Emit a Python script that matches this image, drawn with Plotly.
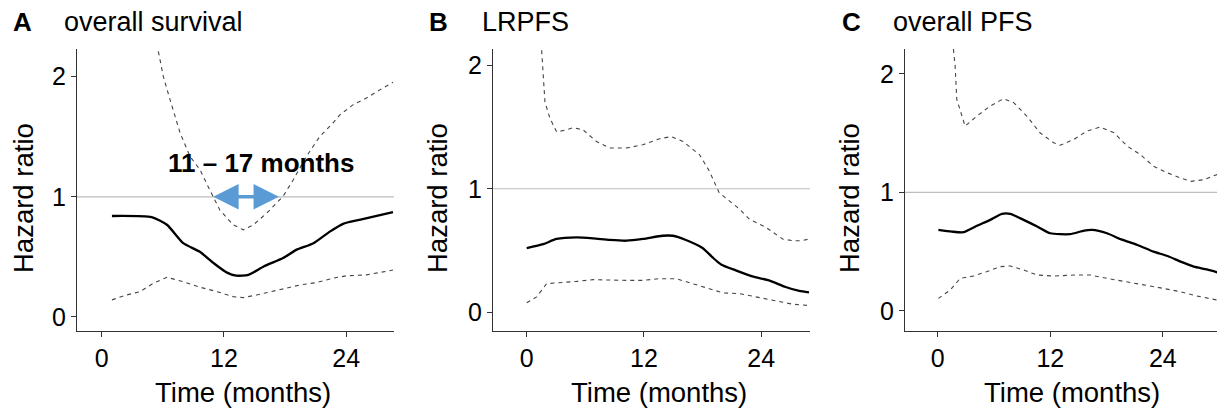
import plotly.graph_objects as go

# ---------- data ----------
os_x = [1.0, 4.9, 6.4, 8.0, 9.6, 11.0, 12.3, 13.2, 14.4, 15.9, 17.8, 19.1, 20.8, 22.4, 23.7, 25.3, 27.0, 28.6]
os_hr = [0.84, 0.83, 0.767, 0.614, 0.544, 0.447, 0.369, 0.344, 0.35, 0.42, 0.49, 0.558, 0.614, 0.71, 0.775, 0.808, 0.842, 0.872]
os_up_x = [5.56, 6.05, 6.7, 7.7, 8.67, 9.65, 10.6, 11.6, 12.9, 13.9, 14.9, 16.2, 17.8, 18.8, 20.1, 21.4, 22.7, 23.4, 24.7, 26.0, 27.3, 28.6]
os_up = [2.21, 2.0, 1.81, 1.53, 1.336, 1.225, 1.058, 0.89, 0.767, 0.725, 0.767, 0.864, 1.003, 1.14, 1.336, 1.50, 1.614, 1.683, 1.767, 1.822, 1.89, 1.953]
os_lo_x = [1.0, 2.45, 3.76, 5.07, 6.4, 8.0, 9.65, 11.3, 12.9, 13.9, 15.2, 16.8, 18.1, 19.5, 21.1, 22.7, 24.0, 26.0, 28.6]
os_lo = [0.142, 0.183, 0.211, 0.28, 0.33, 0.294, 0.247, 0.211, 0.169, 0.161, 0.183, 0.211, 0.239, 0.267, 0.286, 0.322, 0.342, 0.35, 0.39]

lr_x = [0.0, 1.7, 3.06, 5.1, 6.8, 8.5, 10.2, 11.9, 13.9, 14.96, 16.3, 18.0, 19.0, 19.9, 21.4, 23.1, 24.8, 26.5, 27.9, 28.9]
lr_hr = [0.521, 0.553, 0.594, 0.607, 0.599, 0.586, 0.58, 0.594, 0.62, 0.62, 0.586, 0.521, 0.447, 0.388, 0.34, 0.291, 0.259, 0.206, 0.174, 0.163]
lr_up_x = [1.53, 1.7, 1.87, 2.38, 3.06, 4.08, 4.76, 5.78, 7.14, 8.5, 10.2, 11.9, 13.6, 14.8, 16.0, 17.7, 18.7, 19.7, 20.7, 21.8, 22.8, 24.5, 26.2, 27.2, 28.2, 28.9]
lr_up = [2.12, 1.92, 1.70, 1.57, 1.46, 1.476, 1.495, 1.476, 1.382, 1.329, 1.329, 1.356, 1.404, 1.422, 1.382, 1.275, 1.142, 0.968, 0.901, 0.834, 0.754, 0.687, 0.594, 0.58, 0.58, 0.594]
lr_lo_x = [0.0, 1.02, 2.04, 3.06, 5.1, 6.8, 8.5, 10.2, 11.9, 13.6, 15.3, 17.0, 18.7, 20.1, 21.8, 23.8, 25.5, 27.2, 28.9]
lr_lo = [0.078, 0.126, 0.233, 0.238, 0.251, 0.265, 0.259, 0.259, 0.259, 0.273, 0.273, 0.233, 0.193, 0.158, 0.152, 0.118, 0.094, 0.067, 0.056]

pf_x = [0.07, 1.5, 2.74, 4.17, 5.6, 6.84, 7.73, 9.15, 10.6, 12.0, 14.1, 15.6, 16.45, 18.05, 19.5, 21.3, 23.0, 24.5, 25.9, 27.3, 28.7, 30.2]
pf_hr = [0.684, 0.669, 0.664, 0.718, 0.768, 0.819, 0.819, 0.768, 0.712, 0.655, 0.647, 0.678, 0.684, 0.655, 0.605, 0.556, 0.5, 0.463, 0.415, 0.373, 0.35, 0.316]
pf_up_x = [1.67, 1.85, 2.03, 2.56, 2.92, 4.17, 5.6, 7.0, 8.1, 9.5, 10.9, 12.36, 13.07, 14.5, 15.9, 17.3, 18.8, 20.2, 21.6, 23.0, 24.5, 25.9, 27.0, 28.4, 30.2]
pf_up = [2.21, 2.07, 1.785, 1.644, 1.559, 1.644, 1.729, 1.79, 1.757, 1.644, 1.503, 1.418, 1.398, 1.446, 1.517, 1.551, 1.503, 1.39, 1.319, 1.22, 1.164, 1.121, 1.093, 1.107, 1.164]
pf_lo_x = [0.07, 1.32, 2.39, 3.8, 5.2, 6.66, 7.73, 9.15, 10.6, 12.4, 14.5, 16.3, 18.05, 20.2, 22.0, 24.1, 25.9, 27.7, 30.2]
pf_lo = [0.105, 0.175, 0.274, 0.294, 0.33, 0.373, 0.379, 0.345, 0.302, 0.294, 0.302, 0.302, 0.274, 0.246, 0.218, 0.189, 0.161, 0.124, 0.085]

panel_letters = ["A", "B", "C"]
panel_titles = ["overall survival", "LRPFS", "overall PFS"]
x_ticks = [0, 12, 24]
y_ticks = [0, 1, 2]
ref_hr = 1
window = [10.8, 17.4]
window_label = "11 – 17 months"

# ---------- layout geometry (page pixels; page body has an 8px margin) ----------
OFF = 8
W, H = 1217, 402


def fx(px):
    return (px - OFF) / W


def fy(py):
    return 1 - (py - OFF) / H


panels = [
    dict(x=(os_x, os_hr), up=(os_up_x, os_up), lo=(os_lo_x, os_lo), px=(77, 394), xr=(-2.43, 28.7), yr=(-0.117, 2.23)),
    dict(x=(lr_x, lr_hr), up=(lr_up_x, lr_up), lo=(lr_lo_x, lr_lo), px=(493, 810), xr=(-3.45, 29.0), yr=(-0.15, 2.13)),
    dict(x=(pf_x, pf_hr), up=(pf_up_x, pf_up), lo=(pf_lo_x, pf_lo), px=(905, 1221), xr=(-3.49, 30.2), yr=(-0.17, 2.21)),
]
ytop, ybot = 49, 331
FONT = "Liberation Sans, Arial, sans-serif"
DASH = dict(color="#454545", width=1.1, dash="4px,4px")

fig = go.Figure()
annotations = []
shapes = []
for i, p in enumerate(panels):
    n = "" if i == 0 else str(i + 1)
    xa, ya = "x" + n, "y" + n
    fig.add_trace(go.Scatter(x=p["up"][0], y=p["up"][1], mode="lines", xaxis=xa, yaxis=ya,
                             line=DASH, showlegend=False))
    fig.add_trace(go.Scatter(x=p["lo"][0], y=p["lo"][1], mode="lines", xaxis=xa, yaxis=ya,
                             line=DASH, showlegend=False))
    fig.add_trace(go.Scatter(x=p["x"][0], y=p["x"][1], mode="lines", xaxis=xa, yaxis=ya,
                             line=dict(color="black", width=2.3, shape="spline", smoothing=0.6), showlegend=False))
    fig.layout["xaxis" + n] = dict(domain=[fx(p["px"][0]), fx(p["px"][1])], range=list(p["xr"]), tickvals=x_ticks,
                                   showgrid=False, zeroline=False, showline=True, linecolor="#333", linewidth=1,
                                   ticks="outside", ticklen=5, tickcolor="#333",
                                   tickfont=dict(size=25, color="black", family=FONT), anchor=ya)
    fig.layout["yaxis" + n] = dict(domain=[fy(ybot), fy(ytop)], range=list(p["yr"]), tickvals=y_ticks,
                                   showgrid=False, zeroline=False, showline=True, linecolor="#333", linewidth=1,
                                   ticks="outside", ticklen=5, tickcolor="#333",
                                   tickfont=dict(size=25, color="black", family=FONT), anchor=xa)
    shapes.append(dict(type="line", xref=xa + " domain", yref=ya, x0=0, x1=1, y0=ref_hr, y1=ref_hr,
                       line=dict(color="#bdbdbd", width=1.2), layer="below"))
    # panel labels
    letter_x = [11, 427, 840][i]
    title_x = [62, 480, 891][i]
    annotations.append(dict(text="<b>" + panel_letters[i] + "</b>", x=fx(letter_x), y=fy(22), xref="paper", yref="paper",
                            xanchor="left", yanchor="middle", showarrow=False, font=dict(size=26, color="black", family=FONT)))
    annotations.append(dict(text=panel_titles[i], x=fx(title_x), y=fy(22), xref="paper", yref="paper",
                            xanchor="left", yanchor="middle", showarrow=False, font=dict(size=27, color="black", family=FONT)))
    # axis titles
    annotations.append(dict(text="Hazard ratio", x=fx([24, 438, 850][i]), y=fy(198), xref="paper", yref="paper",
                            xanchor="center", yanchor="middle", textangle=-90, showarrow=False,
                            font=dict(size=27.5, color="black", family=FONT)))
    annotations.append(dict(text="Time (months)", x=fx([243, 659, 1072][i]), y=fy(392), xref="paper", yref="paper",
                            xanchor="center", yanchor="middle", showarrow=False,
                            font=dict(size=27.5, color="black", family=FONT)))

# double-headed arrow marking the window (panel A)
annotations.append(dict(x=window[1], y=ref_hr, ax=window[0], ay=ref_hr, xref="x", yref="y", axref="x", ayref="y",
                        text="", showarrow=True, arrowside="end+start", arrowhead=2, startarrowhead=2,
                        arrowsize=1.45, startarrowsize=1.45, arrowwidth=3.5, arrowcolor="#5b9bd5",
                        standoff=0, startstandoff=0))
annotations.append(dict(text="<b>" + window_label + "</b>", x=15.6, y=1.28, xref="x", yref="y",
                        xanchor="center", yanchor="middle", showarrow=False,
                        font=dict(size=26, color="black", family=FONT)))

fig.update_layout(width=W, height=H, margin=dict(l=0, r=0, t=0, b=0), plot_bgcolor="white",
                  paper_bgcolor="white", annotations=annotations, shapes=shapes)
fig.write_html("out.html")
